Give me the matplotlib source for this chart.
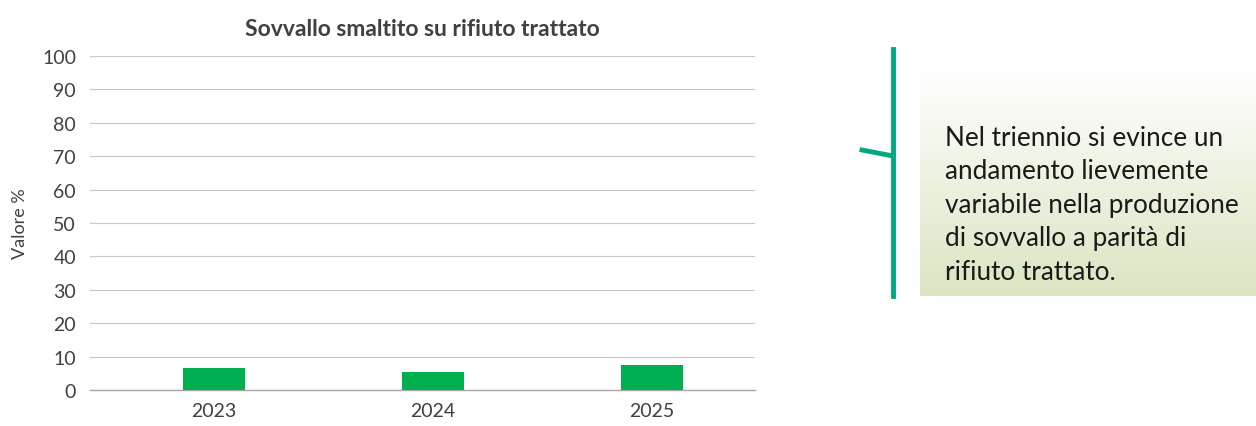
import numpy as np
import matplotlib.pyplot as plt
from matplotlib.lines import Line2D

# dati
anni = ["2023", "2024", "2025"]
valori = [6.7, 5.3, 7.5]
yticks = list(range(0, 101, 10))

titolo = "Sovvallo smaltito su rifiuto trattato"
ylabel = "Valore %"
nota = ("Nel triennio si evince un\nandamento lievemente\nvariabile nella produzione\n"
        "di sovvallo a parità di\nrifiuto trattato.")

plt.rcParams['font.family'] = ['Lato', 'DejaVu Sans']

fig = plt.figure(figsize=(12.56, 4.27), dpi=100)
W, H = 1256, 427

ax = fig.add_axes([90 / W, 1 - 391 / H, (755 - 90) / W, (391 - 57) / H])
x = np.arange(len(anni))
ax.bar(x, valori, width=0.28, color='#00B050', zorder=3)
ax.set_xlim(-0.566, 2.47)
ax.set_ylim(0, 100)
ax.set_yticks(yticks)
ax.set_xticks(x)
ax.set_xticklabels(anni)
ax.grid(axis='y', color='#c8c8c8', linewidth=0.8, zorder=0)
for s in ['left', 'right', 'top']:
    ax.spines[s].set_visible(False)
ax.spines['bottom'].set_color('#a6a6a6')
ax.spines['bottom'].set_linewidth(1.0)
ax.tick_params(axis='both', length=0, labelsize=14, colors='#404040', pad=10)
ax.tick_params(axis='x', pad=9)
ax.set_ylabel(ylabel, fontsize=13, color='#404040', labelpad=10)
ax.set_title(titolo, fontsize=16.5, fontweight='bold', color='#404040', pad=15)

# riquadro di testo con sfumatura
bx = fig.add_axes([920 / W, 1 - 297 / H, (1256 - 920) / W, (297 - 68) / H])
grad = np.linspace(0, 1, 256).reshape(-1, 1)
top = np.array([1.0, 1.0, 1.0])
bot = np.array([0xDB, 0xE5, 0xC2]) / 255
img = top + (bot - top) * grad[..., None]
bx.imshow(img, aspect='auto', extent=[0, 1, 0, 1], origin='upper')
bx.set_axis_off()
fig.text(945 / W, 1 - 126 / H, nota, fontsize=18.8, color='#1a1a1a',
         va='top', ha='left', linespacing=1.42)

# linea verde con gancio
col = '#00A884'
fig.add_artist(Line2D([893 / W, 893 / W], [1 - 50 / H, 1 - 297 / H],
                      color=col, linewidth=3.5, transform=fig.transFigure))
fig.add_artist(Line2D([862 / W, 893 / W], [1 - 151 / H, 1 - 157 / H],
                      color=col, linewidth=3.5, transform=fig.transFigure))

fig.savefig('out.png', dpi=100)
